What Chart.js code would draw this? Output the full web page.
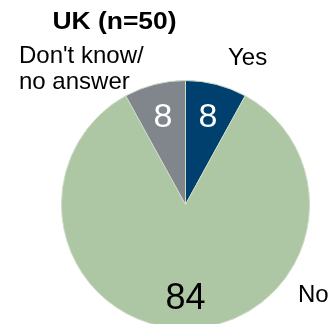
<!DOCTYPE html>
<html>
<head>
<meta charset="utf-8">
<script src="https://cdn.jsdelivr.net/npm/chart.js@4/dist/chart.umd.min.js"></script>
<style>
  html, body { margin: 0; padding: 0; background: #fff; }
  #wrap { width: 329px; height: 324px; overflow: hidden; position: relative; }
</style>
</head>
<body>
<div id="wrap"><canvas id="pie" width="329" height="340"></canvas></div>
<script>
const categories = ['Yes', 'No', "Don't know/\nno answer"];
const shares = [8, 84, 8];
const sliceColors = ['#00406f', '#adc6a3', '#80868c'];
const valueColors = ['#ffffff', '#000000', '#ffffff'];
const chartTitle = 'UK (n=50)';

// outer category labels, left edge + first baseline
const labelSpots = [
  { x: 228, y: 65 },
  { x: 298, y: 302 },
  { x: 19, y: 63 },
];

const pieText = {
  id: 'pieText',
  afterDatasetsDraw(chart) {
    const ctx = chart.ctx;
    const arcs = chart.getDatasetMeta(0).data;
    ctx.save();
    ctx.textBaseline = 'alphabetic';

    // title (wide bold face)
    ctx.save();
    ctx.font = 'bold 23px "Liberation Sans", Arial, sans-serif';
    ctx.fillStyle = '#000';
    ctx.textAlign = 'center';
    ctx.translate(114.5, 29);
    ctx.scale(1.15, 1);
    ctx.fillText(chartTitle, 0, 0);
    ctx.restore();

    // category names
    ctx.font = '24px "Liberation Sans", Arial, sans-serif';
    ctx.fillStyle = '#000';
    ctx.textAlign = 'left';
    categories.forEach((name, i) => {
      name.split('\n').forEach((line, j) => {
        ctx.fillText(line, labelSpots[i].x, labelSpots[i].y + j * 26);
      });
    });

    // values inside the slices
    ctx.textAlign = 'center';
    ctx.textBaseline = 'middle';
    arcs.forEach((arc, i) => {
      const { x, y, startAngle, endAngle, outerRadius } = arc.getProps(['x', 'y', 'startAngle', 'endAngle', 'outerRadius'], true);
      const mid = (startAngle + endAngle) / 2;
      const r = outerRadius * (shares[i] > 50 ? 0.755 : 0.73);
      ctx.font = (shares[i] > 50 ? '36px' : '34px') + ' "Liberation Sans", Arial, sans-serif';
      ctx.fillStyle = valueColors[i];
      ctx.fillText(String(shares[i]), x + Math.cos(mid) * r, y + Math.sin(mid) * r + 1);
    });
    ctx.restore();
  }
};

new Chart(document.getElementById('pie'), {
  type: 'pie',
  data: {
    labels: categories,
    datasets: [{
      data: shares,
      backgroundColor: sliceColors,
      borderColor: '#cddbc6',
      borderWidth: 1,
    }],
  },
  options: {
    responsive: false,
    animation: false,
    layout: { padding: { left: 61, right: 19, top: 80, bottom: 11 } },
    plugins: { legend: { display: false }, tooltip: { enabled: false }, title: { display: false } },
  },
  plugins: [pieText],
});
</script>
</body>
</html>
